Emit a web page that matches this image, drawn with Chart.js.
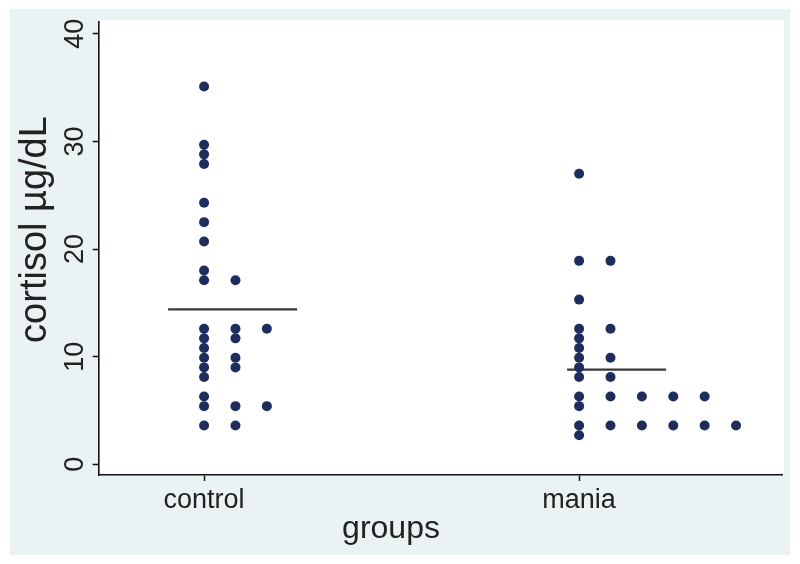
<!DOCTYPE html>
<html>
<head>
  <title>Cortisol by group</title>
  <script src="https://cdn.jsdelivr.net/npm/chart.js"></script>
  <style>
    body { margin: 0; background: #ffffff; }
  </style>
</head>
<body>
  <canvas id="cortisol-chart" width="800" height="564"></canvas>
  <script>
    // values, one array per column of dots
    const groups = ["control", "mania"];
    const controlColumns = [
      [35.1, 29.7, 28.8, 27.9, 24.3, 22.5, 20.7, 18.0, 17.1, 12.6, 11.7, 10.8, 9.9, 9.0, 8.1, 6.3, 5.4, 3.6],
      [17.1, 12.6, 11.7, 9.9, 9.0, 5.4, 3.6],
      [12.6, 5.4]
    ];
    const maniaColumns = [
      [27.0, 18.9, 15.3, 12.6, 11.7, 10.8, 9.9, 9.0, 8.1, 6.3, 5.4, 3.6, 2.7],
      [18.9, 12.6, 9.9, 8.1, 6.3, 3.6],
      [6.3, 3.6],
      [6.3, 3.6],
      [6.3, 3.6],
      [3.6]
    ];
    const groupMeans = [14.4, 8.8];
    const meanLineStart = [0.904, 1.968];
    const meanLineEnd = [1.248, 2.232];
    const yTicks = [0, 10, 20, 30, 40];

    const colStep = 0.0837;
    const dotColor = "#1e2d5e";
    const font = "'Liberation Sans', Arial, Helvetica, sans-serif";
    const padBottom = 16;
    const groupsTitleHeight = 32 * 1.2;

    function dotsFor(columns, groupIndex) {
      const pts = [];
      columns.forEach(function(col, c) {
        col.forEach(function(v) {
          pts.push({ x: groupIndex + 1 + c * colStep, y: v });
        });
      });
      return pts;
    }

    const dots = dotsFor(controlColumns, 0).concat(dotsFor(maniaColumns, 1));

    const meanSets = groupMeans.map(function(m, i) {
      return {
        type: "line",
        data: [{ x: meanLineStart[i], y: m }, { x: meanLineEnd[i], y: m }],
        borderColor: "#383838",
        borderWidth: 2.2,
        pointRadius: 0,
        fill: false
      };
    });

    const background = {
      id: "background",
      beforeDraw: function(chart) {
        const c = chart.ctx;
        const a = chart.chartArea;
        c.save();
        c.fillStyle = "#ffffff";
        c.fillRect(0, 0, chart.width, chart.height);
        c.fillStyle = "#eaf2f3";
        c.fillRect(10, 9, 780, 546);
        c.fillStyle = "#ffffff";
        c.fillRect(a.left, a.top - 2, a.right - a.left + 2, a.bottom - a.top + 2);
        c.restore();
      }
    };

    new Chart(document.getElementById("cortisol-chart").getContext("2d"), {
      type: "scatter",
      data: {
        datasets: [{
          data: dots,
          backgroundColor: dotColor,
          borderWidth: 0,
          pointRadius: 5,
          pointHoverRadius: 5
        }].concat(meanSets)
      },
      options: {
        responsive: false,
        animation: false,
        devicePixelRatio: 1,
        layout: { padding: { left: 0, top: 22, right: 18, bottom: padBottom } },
        plugins: {
          legend: { display: false },
          tooltip: { enabled: false },
          title: {
            display: true,
            position: "bottom",
            text: "groups",
            color: "#222222",
            padding: 0,
            font: { family: font, size: 32, weight: "normal" }
          }
        },
        scales: {
          x: {
            type: "linear",
            min: 0.719,
            max: 2.541,
            afterBuildTicks: function(scale) {
              scale.ticks = groups.map(function(g, i) { return { value: i + 1 }; });
            },
            afterFit: function(scale) { scale.height = 564 - padBottom - groupsTitleHeight - 475; },
            ticks: {
              padding: 3,
              color: "#222222",
              font: { family: font, size: 27 },
              callback: function(v) { return groups[v - 1]; }
            },
            grid: { drawOnChartArea: false, tickLength: 6, tickColor: "#111111", tickWidth: 1.5 },
            border: { color: "#111111", width: 1.6 }
          },
          y: {
            min: -1.0,
            max: 41.1,
            afterBuildTicks: function(scale) {
              scale.ticks = yTicks.map(function(v) { return { value: v }; });
            },
            afterFit: function(scale) { scale.width = 98.7; },
            ticks: {
              minRotation: 90,
              maxRotation: 90,
              crossAlign: "center",
              padding: 2,
              color: "#222222",
              font: { family: font, size: 27 }
            },
            grid: { drawOnChartArea: false, tickLength: 6, tickColor: "#111111", tickWidth: 1.5 },
            border: { color: "#111111", width: 1.6 },
            title: {
              display: true,
              text: "\u2003cortisol µg/dL",
              color: "#222222",
              padding: { top: 13, bottom: 0 },
              font: { family: font, size: 38 }
            }
          }
        }
      },
      plugins: [background]
    });
  </script>
</body>
</html>
